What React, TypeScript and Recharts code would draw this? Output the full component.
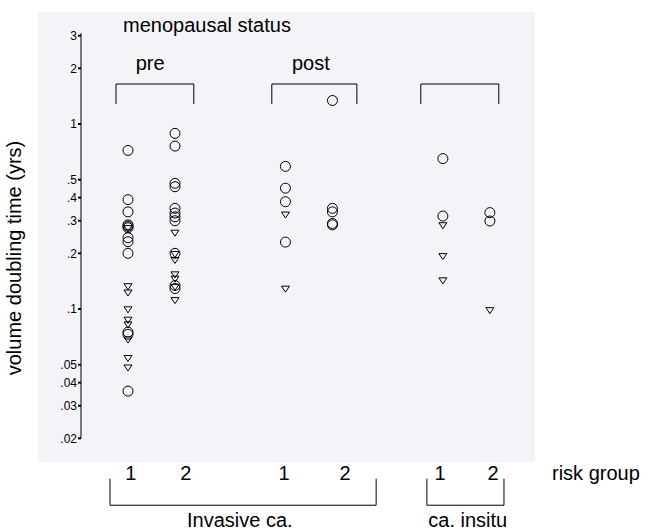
import React from 'react';
import { ScatterChart, Scatter, XAxis, YAxis, ReferenceLine, ReferenceDot } from 'recharts';

// ---- data ----
const groupNames = ['pre / 1', 'pre / 2', 'post / 1', 'post / 2', 'in situ / 1', 'in situ / 2'];
const groupPositions = [1, 2, 4.35, 5.35, 7.7, 8.7];
const circleValues: number[][] = [
  [0.72, 0.39, 0.335, 0.285, 0.28, 0.275, 0.243, 0.231, 0.2, 0.075, 0.073, 0.036],
  [0.89, 0.76, 0.478, 0.458, 0.35, 0.33, 0.315, 0.3, 0.2, 0.134, 0.129],
  [0.59, 0.45, 0.38, 0.23],
  [1.34, 0.35, 0.335, 0.29, 0.285],
  [0.65, 0.318],
  [0.332, 0.299],
];
const triangleValues: number[][] = [
  [0.272, 0.132, 0.122, 0.099, 0.087, 0.082, 0.068, 0.054, 0.048],
  [0.257, 0.197, 0.183, 0.153, 0.145, 0.131, 0.111],
  [0.322, 0.128],
  [],
  [0.282, 0.192, 0.142],
  [0.098],
];
const yTicks = [0.02, 0.03, 0.04, 0.05, 0.1, 0.2, 0.3, 0.4, 0.5, 1, 2, 3];
const riskTickPositions = [1.06, 2.23, 4.32, 5.62, 7.64, 8.77];
const riskTickLabels = ['1', '2', '1', '2', '1', '2'];

// ---- annotations (in axis units) ----
const topBrackets = [
  { label: 'pre', x0: 0.745, x1: 2.4, labelX: 1.47 },
  { label: 'post', x0: 4.06, x1: 5.87, labelX: 4.89 },
  { label: '', x0: 7.23, x1: 8.89, labelX: 8.06 },
];
const bottomBrackets = [
  { label: 'Invasive ca.', x0: 0.617, x1: 6.28, labelX: 3.38 },
  { label: 'ca. insitu', x0: 7.36, x1: 9.0, labelX: 8.23 },
];

const circleData = circleValues.flatMap((vals, g) =>
  vals.map((v) => ({ group: groupNames[g], x: groupPositions[g], y: v }))
);
const triangleData = triangleValues.flatMap((vals, g) =>
  vals.map((v) => ({ group: groupNames[g], x: groupPositions[g], y: v }))
);

const fmtY = (v: number) => (v < 1 ? String(v).replace(/^0/, '') : String(v));
const fmtX = (v: number) => {
  const i = riskTickPositions.indexOf(v);
  return i >= 0 ? riskTickLabels[i] : '';
};

const CircleShape = (p: any) => (
  <circle cx={p.cx} cy={p.cy} r={5} fill="none" stroke="#000" strokeWidth={1} />
);
const TriangleShape = (p: any) => (
  <polygon
    points={`${p.cx - 4},${p.cy - 3} ${p.cx + 4},${p.cy - 3} ${p.cx},${p.cy + 3}`}
    fill="none"
    stroke="#000"
    strokeWidth={1}
  />
);

const BIG = 20;

export default function App() {
  return (
    <div
      style={{
        position: 'absolute',
        left: 0,
        top: 0,
        width: 648,
        height: 532,
        background: '#fff',
        fontFamily: '"Liberation Sans", Arial, sans-serif',
      }}
    >
      <div
        style={{
          position: 'absolute',
          left: 38,
          top: 12,
          width: 497,
          height: 450,
          background: '#f3f3f8',
        }}
      />
      <div style={{ position: 'absolute', left: 0, top: 0 }}>
        <ScatterChart width={648} height={532} margin={{ top: 12, right: 113, bottom: 40, left: 0 }}>
          <XAxis
            type="number"
            dataKey="x"
            domain={[0, 9.66]}
            allowDataOverflow
            ticks={riskTickPositions}
            tickFormatter={fmtX}
            interval={0}
            axisLine={false}
            tickLine={false}
            tickSize={0}
            tickMargin={4}
            height={30}
            tick={{ fill: '#000', fontSize: BIG }}
            label={{
              content: (props: any) => {
                const vb = props.viewBox || {};
                return (
                  <text x={vb.x + vb.width + 17} y={480} fontSize={BIG} fill="#000">
                    risk group
                  </text>
                );
              },
            }}
          />
          <YAxis
            type="number"
            dataKey="y"
            scale="log"
            domain={[0.0149, 4.03]}
            allowDataOverflow
            ticks={yTicks}
            interval={0}
            tickFormatter={fmtY}
            axisLine={false}
            tickSize={3}
            tickMargin={1}
            tickLine={{ stroke: '#000', strokeWidth: 2 }}
            width={81}
            tick={{ fill: '#000', fontSize: 12 }}
            label={{
              content: (props: any) => {
                const vb = props.viewBox || {};
                const cx = vb.x + 14;
                const cy = 258;
                return (
                  <text
                    x={cx}
                    y={cy}
                    transform={`rotate(-90 ${cx} ${cy})`}
                    textAnchor="middle"
                    dominantBaseline="central"
                    fontSize={BIG}
                    fill="#000"
                  >
                    volume doubling time (yrs)
                  </text>
                );
              },
            }}
          />
          <ReferenceLine
            segment={[{ x: 0, y: 0.02 }, { x: 0, y: 3.1 }]}
            stroke="#000"
            strokeWidth={1}
            ifOverflow="visible"
          />
          {topBrackets.map((b, i) => (
            <React.Fragment key={'tb' + i}>
              <ReferenceLine segment={[{ x: b.x0, y: 1.645 }, { x: b.x1, y: 1.645 }]} stroke="#000" ifOverflow="visible" />
              <ReferenceLine segment={[{ x: b.x0, y: 1.645 }, { x: b.x0, y: 1.283 }]} stroke="#000" ifOverflow="visible" />
              <ReferenceLine segment={[{ x: b.x1, y: 1.645 }, { x: b.x1, y: 1.283 }]} stroke="#000" ifOverflow="visible" />
              {b.label ? (
                <ReferenceDot
                  x={b.labelX}
                  y={2.14}
                  r={0}
                  fill="none"
                  stroke="none"
                  ifOverflow="visible"
                  label={{ value: b.label, position: 'center', fontSize: BIG, fill: '#000' }}
                />
              ) : null}
            </React.Fragment>
          ))}
          <ReferenceDot
            x={0.894}
            y={3.43}
            r={0}
            fill="none"
            stroke="none"
            ifOverflow="visible"
            label={{ value: 'menopausal status', position: 'right', offset: 0, fontSize: BIG, fill: '#000' }}
          />
          {bottomBrackets.map((b, i) => (
            <React.Fragment key={'bb' + i}>
              <ReferenceLine segment={[{ x: b.x0, y: 0.0087 }, { x: b.x1, y: 0.0087 }]} stroke="#000" ifOverflow="visible" />
              <ReferenceLine segment={[{ x: b.x0, y: 0.0121 }, { x: b.x0, y: 0.0087 }]} stroke="#000" ifOverflow="visible" />
              <ReferenceLine segment={[{ x: b.x1, y: 0.0121 }, { x: b.x1, y: 0.0087 }]} stroke="#000" ifOverflow="visible" />
              <ReferenceDot
                x={b.labelX}
                y={0.00722}
                r={0}
                fill="none"
                stroke="none"
                ifOverflow="visible"
                label={{ value: b.label, position: 'center', fontSize: BIG, fill: '#000' }}
              />
            </React.Fragment>
          ))}
          <Scatter name="circles" data={circleData} shape={CircleShape} isAnimationActive={false} />
          <Scatter name="triangles" data={triangleData} shape={TriangleShape} isAnimationActive={false} />
        </ScatterChart>
      </div>
    </div>
  );
}
